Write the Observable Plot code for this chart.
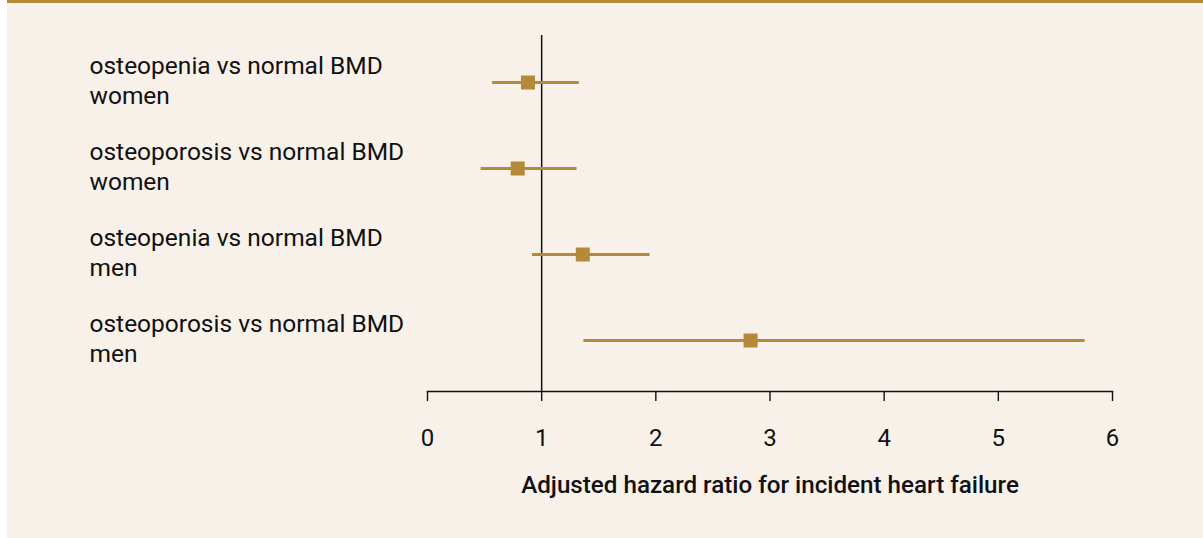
<!DOCTYPE html>
<html>
<head>
<meta charset="utf-8">
<script src="https://cdn.jsdelivr.net/npm/d3@7"></script>
<script src="https://cdn.jsdelivr.net/npm/@observablehq/plot@0.6"></script>
<style>
  html, body { margin: 0; padding: 0; background: #ffffff; }
  #panel {
    margin-left: 7px;
    width: 1196px;
    height: 535px;
    background: #f8f1ea;
    border-top: 3px solid #b5893a;
    overflow: hidden;
  }
</style>
</head>
<body>
<div id="panel"></div>
<script>
const labels = [
  "osteopenia vs normal BMD\nwomen",
  "osteoporosis vs normal BMD\nwomen",
  "osteopenia vs normal BMD\nmen",
  "osteoporosis vs normal BMD\nmen"
];
const hr = [0.88, 0.79, 1.36, 2.83];
const lo = [0.57, 0.47, 0.92, 1.37];
const hi = [1.33, 1.31, 1.95, 5.76];
const xTicks = [0, 1, 2, 3, 4, 5, 6];
const xTitle = "Adjusted hazard ratio for incident heart failure";

const data = labels.map((label, i) => ({label, hr: hr[i], lo: lo[i], hi: hi[i]}));
const gold = "#b5893a";

const chart = Plot.plot({
  width: 1196,
  height: 535,
  marginLeft: 420,
  marginRight: 91,
  marginTop: 28,
  marginBottom: 147,
  style: {fontFamily: "Roboto", fontSize: "24px", background: "transparent", color: "#111"},
  x: {domain: [0, 6]},
  y: {type: "point", domain: labels, padding: 0.577, axis: null},
  marks: [
    Plot.ruleX([1], {stroke: "#111", strokeWidth: 1.5, insetTop: 4}),
    Plot.frame({anchor: "bottom", stroke: "#111", strokeWidth: 1.4}),
    Plot.axisX({ticks: xTicks, tickFormat: d => String(d), tickSize: 10, tickPadding: 27, label: null, stroke: "#111", strokeWidth: 1.4, fontSize: 24}),
    Plot.ruleY(data, {y: "label", x1: "lo", x2: "hi", stroke: gold, strokeWidth: 3}),
    Plot.dot(data, {x: "hr", y: "label", symbol: "square", r: 7.9, fill: gold, stroke: "none"}),
    Plot.text(data, {y: "label", text: "label", frameAnchor: "left", dx: -338, dy: -3, textAnchor: "start", lineHeight: 1.22, fontSize: 24.5, fill: "#111"}),
    Plot.text([xTitle], {frameAnchor: "bottom", dy: 101, fontSize: 24.2, fontWeight: 500, fill: "#111"})
  ]
});
document.getElementById("panel").appendChild(chart);
</script>
</body>
</html>
